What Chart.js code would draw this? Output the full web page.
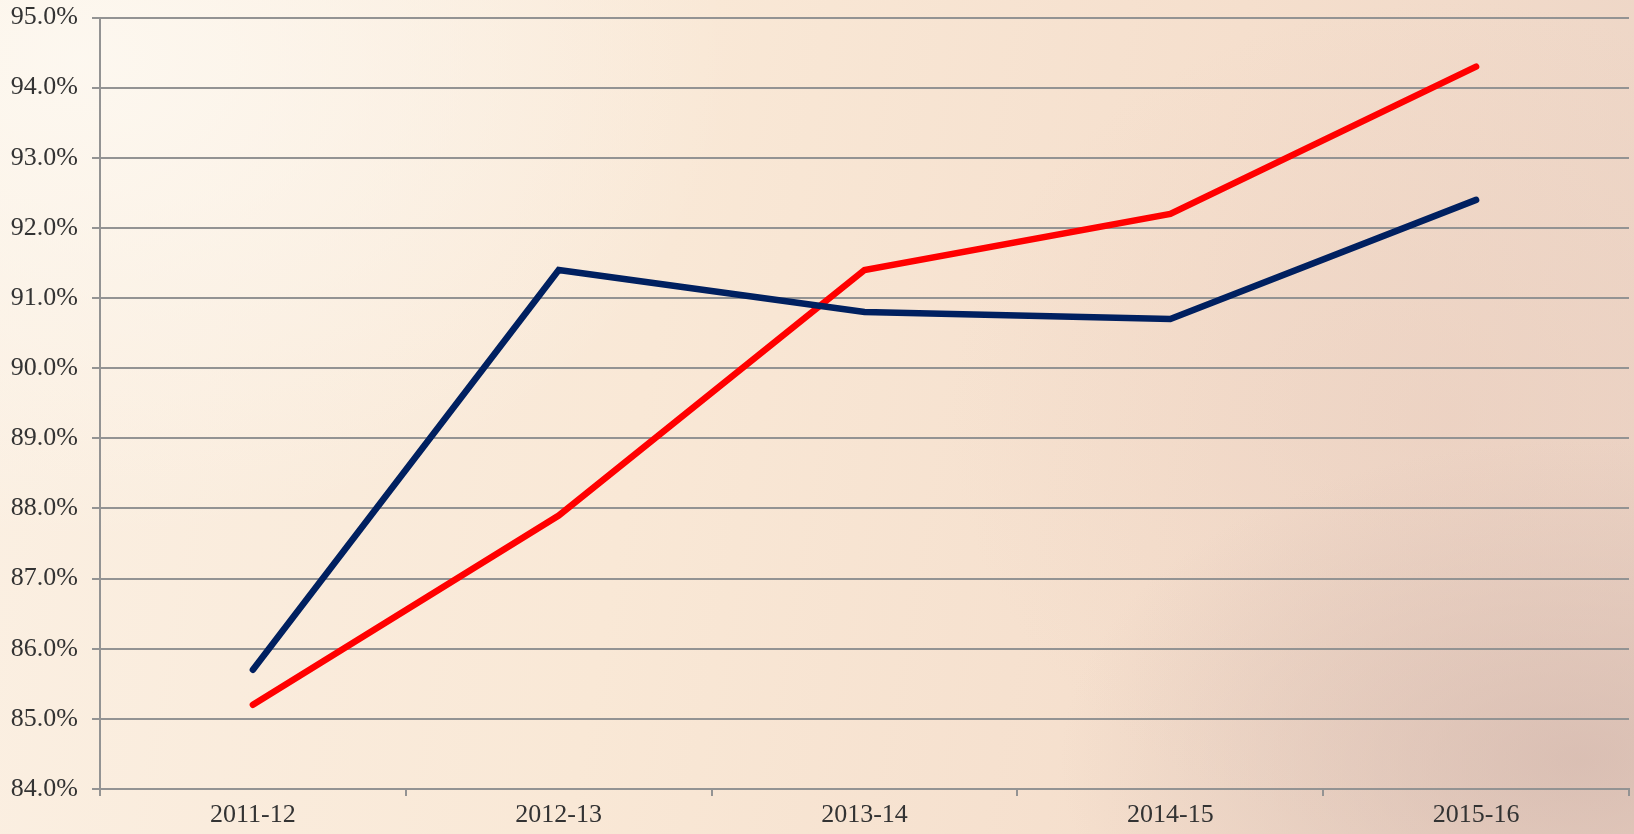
<!DOCTYPE html>
<html>
<head>
<meta charset="utf-8">
<script src="https://cdn.jsdelivr.net/npm/chart.js@4/dist/chart.umd.min.js"></script>
<style>
html,body{margin:0;padding:0;width:1634px;height:834px;overflow:hidden}
body{
  background:
    radial-gradient(ellipse 520px 320px at 1580px 760px, rgba(210,182,172,0.7), rgba(210,182,172,0) 100%),
    radial-gradient(ellipse 500px 420px at 1450px 420px, rgba(230,200,186,0.4), rgba(230,200,186,0) 100%),
    radial-gradient(ellipse 650px 480px at 80px 60px, rgba(253,248,240,0.95), rgba(253,248,240,0) 100%),
    linear-gradient(100deg,#fbf0e3 0%,#f9e8d6 40%,#f5dfcd 70%,#ecd4c5 100%);
}
#wrap{position:absolute;left:0;top:0;width:1634px;height:834px}
</style>
</head>
<body>
<div id="wrap"><canvas id="c"></canvas></div>
<script>
// years on the x axis
const years=["2011-12","2012-13","2013-14","2014-15","2015-16"];
// values, in %
const blueSeries=[85.7,91.4,90.8,90.7,92.4];
const redSeries=[85.2,87.9,91.4,92.2,94.3];
const yMin=84, yMax=95;

const axisGray="#939393";
const textCol="#333333";
const font={family:"'Liberation Serif', 'Times New Roman', serif",size:26};

new Chart(document.getElementById("c"),{
    type:"line",
    data:{
        labels:years,
        datasets:[
            {
                label:"Series 1",
                data:blueSeries,
                borderColor:"#002060",
                borderWidth:6.5,
                pointRadius:0,
                borderCapStyle:"round",
                borderJoinStyle:"miter",
                tension:0,
                fill:false
            },
            {
                label:"Series 2",
                data:redSeries,
                borderColor:"#ff0000",
                borderWidth:6.5,
                pointRadius:0,
                borderCapStyle:"round",
                borderJoinStyle:"miter",
                tension:0,
                fill:false
            }
        ]
    },
    options:{
        responsive:true,
        maintainAspectRatio:false,
        animation:false,
        layout:{padding:{left:0,right:5,top:17.5,bottom:0}},
        plugins:{legend:{display:false},tooltip:{enabled:false}},
        scales:{
            x:{
                offset:true,
                grid:{display:true,drawOnChartArea:false,drawTicks:true,tickLength:7,offset:true,color:axisGray,lineWidth:2},
                border:{color:axisGray,width:2},
                ticks:{color:textCol,font:font,padding:4,maxRotation:0},
                afterFit:s=>{s.height=45;s.paddingLeft=0;s.paddingRight=0;}
            },
            y:{
                min:yMin,
                max:yMax,
                grid:{color:axisGray,lineWidth:2,tickLength:8},
                border:{color:axisGray,width:2},
                ticks:{
                    stepSize:1,
                    color:textCol,
                    font:font,
                    padding:14,
                    callback:v=>v.toFixed(1)+"%"
                },
                afterFit:s=>{s.width=100;s.paddingTop=0;s.paddingBottom=0;}
            }
        }
    }
});
</script>
</body>
</html>
